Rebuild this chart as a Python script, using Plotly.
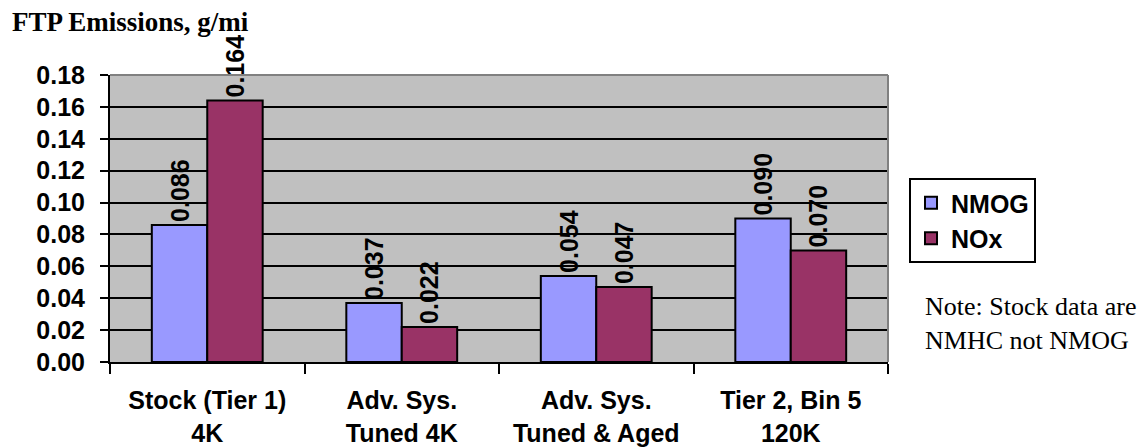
import plotly.graph_objects as go

categories = ["Stock (Tier 1)<br>4K", "Adv. Sys.<br>Tuned 4K", "Adv. Sys.<br>Tuned & Aged", "Tier 2, Bin 5<br>120K"]
nmog = [0.086, 0.037, 0.054, 0.090]
nox = [0.164, 0.022, 0.047, 0.070]
y_ticks = [0.00, 0.02, 0.04, 0.06, 0.08, 0.10, 0.12, 0.14, 0.16, 0.18]

SANS = "Liberation Sans, Arial, sans-serif"
SERIF = "Liberation Serif, Times New Roman, serif"
FS = 25

fig = go.Figure()
for name, vals, col, grp in [("NMOG", nmog, "#9999FF", "a"), ("NOx", nox, "#993366", "b")]:
    fig.add_trace(go.Bar(
        x=categories, y=vals, name=name, legendgroup=grp,
        marker=dict(color=col, line=dict(color="black", width=2)),
        texttemplate="%{y:.3f}", textposition="outside", textangle=-90,
        textfont=dict(family=SANS, size=FS, color="black", weight="bold"),
        constraintext="none", cliponaxis=False,
    ))

W, H = 1142, 447
L, R, T, B = 110, 254, 75, 85
PW, PH = W - L - R, H - T - B

fig.update_layout(
    width=W, height=H,
    margin=dict(l=L, r=R, t=T, b=B, pad=0, autoexpand=False),
    paper_bgcolor="white", plot_bgcolor="#C0C0C0",
    barmode="group", bargap=0.43, bargroupgap=0,
    font=dict(family=SANS, size=FS, color="black", weight="bold"),
    showlegend=True,
    legend=dict(
        x=(909 - L) / PW, y=(H - B - 178) / PH, xanchor="left", yanchor="top",
        bgcolor="white", bordercolor="black", borderwidth=2,
        font=dict(family=SANS, size=FS, color="black", weight="bold"),
        tracegroupgap=6, traceorder="normal",
    ),
    xaxis=dict(
        type="category", tickson="boundaries", ticks="outside", ticklen=10, tickwidth=2,
        tickcolor="black", showline=True, linecolor="black", linewidth=2, showgrid=False,
        tickfont=dict(family=SANS, size=FS, color="black", weight="bold"),
        ticklabelstandoff=15, automargin=False, fixedrange=True,
    ),
    yaxis=dict(
        range=[0, 0.18], tickvals=y_ticks, tickformat=".2f",
        ticks="outside", ticklen=8, tickwidth=2, tickcolor="black",
        showline=True, linecolor="black", linewidth=2,
        showgrid=True, gridcolor="black", gridwidth=1.5, zeroline=False,
        tickfont=dict(family=SANS, size=FS, color="black", weight="bold"),
        ticklabelstandoff=10, automargin=False, fixedrange=True,
    ),
    shapes=[
        dict(type="line", xref="paper", yref="paper", x0=0, x1=1, y0=1, y1=1,
             line=dict(color="#808080", width=2), layer="above"),
        dict(type="line", xref="paper", yref="paper", x0=1, x1=1, y0=0, y1=1,
             line=dict(color="#808080", width=2), layer="above"),
    ],
    annotations=[
        dict(text="FTP Emissions, g/mi", xref="paper", yref="paper",
             x=(10 - L) / PW, y=(H - B - 22) / PH, xanchor="left", yanchor="middle",
             showarrow=False, font=dict(family=SERIF, size=27, color="black", weight="bold")),
        dict(text="Note: Stock data are<br>NMHC not NMOG", xref="paper", yref="paper",
             x=(923 - L) / PW, y=(H - B - 323) / PH, xanchor="left", yanchor="middle",
             align="left", showarrow=False,
             font=dict(family=SERIF, size=26, color="black", weight="normal")),
    ],
)

fig.write_html("out.html", config={"displayModeBar": False},
               post_script="document.body.style.margin='0';document.body.style.overflow='hidden';")
